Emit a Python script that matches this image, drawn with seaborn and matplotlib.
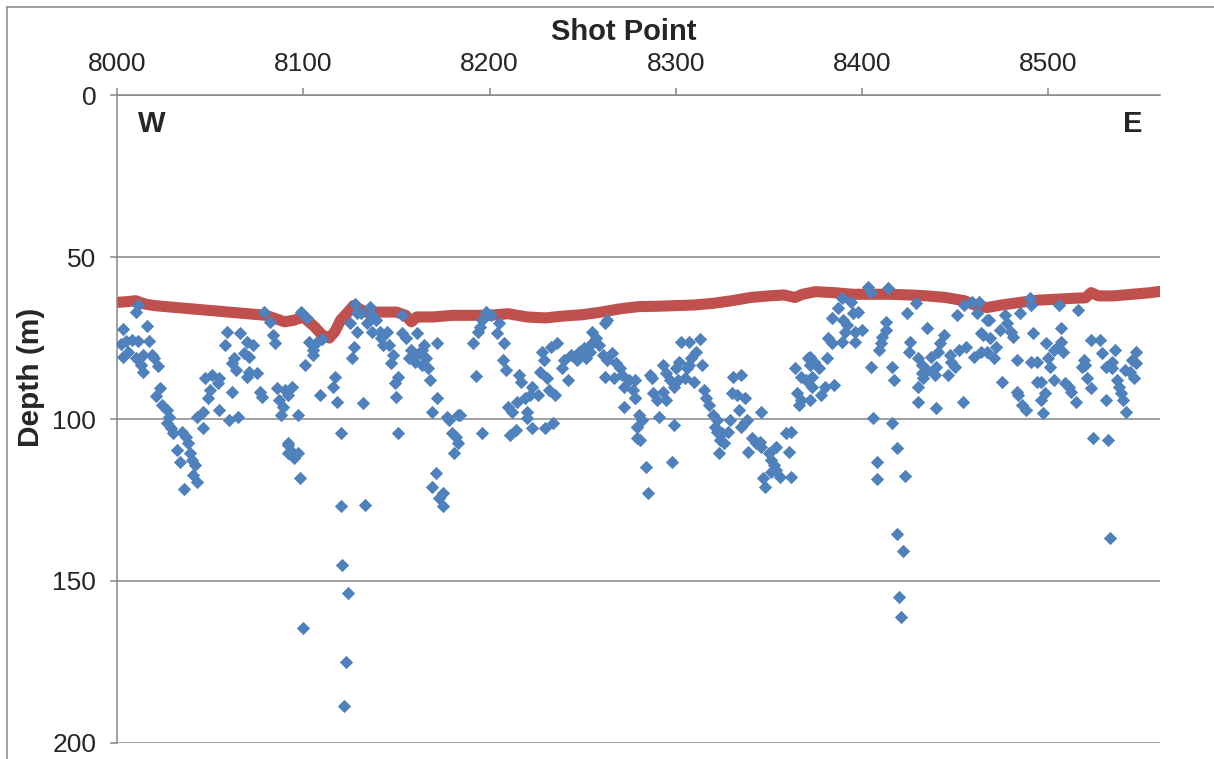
import matplotlib
matplotlib.use("Agg")
import matplotlib.pyplot as plt
from matplotlib.lines import Line2D
import seaborn as sns
import pandas as pd

# seafloor pick (red)
sea_shot = [8000, 8005, 8010, 8015, 8020, 8030, 8040, 8050, 8060, 8070, 8080, 8085,
            8090, 8095, 8100, 8103, 8106, 8110, 8114, 8117, 8120, 8124, 8127, 8130,
            8135, 8140, 8150, 8155, 8158, 8161, 8170, 8180, 8190, 8200, 8210, 8220,
            8230, 8240, 8250, 8260, 8270, 8280, 8290, 8300, 8310, 8320, 8330, 8340,
            8350, 8358, 8364, 8368, 8375, 8385, 8395, 8405, 8415, 8425, 8435, 8445,
            8455, 8460, 8467, 8475, 8485, 8495, 8505, 8515, 8520, 8523, 8527, 8535,
            8545, 8555, 8560]
sea_depth = [64.0, 63.8, 63.5, 64.5, 65.0, 65.5, 66.0, 66.5, 67.0, 67.5, 68.0, 69.0,
             70.0, 69.5, 68.5, 70.0, 71.5, 74.0, 75.0, 73.0, 69.5, 67.0, 65.0, 66.0,
             67.3, 67.0, 67.0, 68.0, 70.0, 68.5, 68.5, 68.0, 68.0, 68.0, 67.5, 68.5,
             68.8, 68.2, 67.8, 67.0, 66.0, 65.3, 65.2, 65.0, 64.8, 64.3, 63.5, 62.5,
             62.0, 61.7, 62.5, 61.5, 60.7, 61.0, 61.5, 61.5, 61.5, 61.7, 62.0, 62.5,
             63.5, 64.7, 65.6, 64.8, 64.0, 63.3, 63.0, 62.7, 62.6, 61.0, 62.0, 62.0,
             61.5, 61.0, 60.6]

# scattered reflector picks (blue)
pick_shot = [
    8011, 8010, 8003, 8016, 8002, 8005, 8008, 8011, 8017, 8003, 8006, 8010, 8014, 8019,
    8020, 8022, 8013, 8014, 8023, 8021, 8024, 8027, 8028, 8027, 8029, 8030, 8035, 8037,
    8038, 8032, 8034, 8039, 8040, 8042, 8041, 8043, 8036,
    8059, 8058, 8066, 8070, 8073, 8068, 8071, 8063, 8062, 8064, 8070, 8075, 8071, 8047,
    8051, 8055, 8054, 8050, 8049, 8062, 8055, 8046, 8043, 8046, 8060, 8065, 8077, 8078,
    8079, 8082, 8084, 8085, 8086, 8090, 8087, 8089, 8088, 8092, 8092,
    8099, 8102, 8103, 8107, 8110, 8105, 8105, 8101, 8094, 8092, 8097, 8092, 8094, 8097,
    8095, 8098, 8117, 8116, 8109, 8118, 8132, 8120, 8127, 8126, 8125, 8128, 8129, 8131,
    8136, 8134, 8129, 8137, 8139, 8137, 8141, 8142, 8145, 8143, 8146, 8148, 8147, 8151,
    8149, 8150, 8151, 8153, 8153, 8155, 8158, 8161, 8157, 8160, 8161, 8164, 8165, 8166,
    8164, 8167, 8168, 8172, 8172, 8169, 8177, 8178, 8183, 8180, 8182, 8183, 8181, 8171,
    8169, 8175, 8173, 8175,
    8198, 8201, 8196, 8195, 8194, 8205, 8204, 8191, 8208, 8207, 8209, 8193, 8184, 8216,
    8217, 8223, 8222, 8226, 8219, 8215, 8210, 8212, 8220, 8220, 8223, 8230, 8234, 8211,
    8214, 8196, 8228, 8229, 8233, 8236, 8227, 8231, 8232, 8235, 8239, 8242, 8240, 8244,
    8247, 8248, 8251, 8254, 8252, 8255, 8257, 8259, 8255, 8263, 8262, 8261, 8263, 8266,
    8268, 8270, 8262, 8267, 8271, 8275, 8272, 8277, 8278, 8272, 8279, 8279,
    8278, 8278, 8280, 8282, 8279, 8281, 8284, 8285, 8286, 8287, 8288, 8290, 8291, 8293,
    8295, 8297, 8293, 8295, 8299, 8301, 8299, 8298, 8300, 8302, 8305, 8306, 8303, 8307,
    8313, 8311, 8308, 8307, 8314, 8310, 8315, 8316, 8318, 8320, 8322, 8321, 8322, 8325,
    8328, 8324, 8326, 8323, 8329, 8330, 8331, 8335, 8333, 8337, 8334, 8337, 8335, 8338,
    8346, 8341, 8343, 8345, 8339, 8346, 8350, 8351, 8354, 8353, 8351, 8354, 8356, 8347,
    8348, 8359, 8362, 8361, 8362, 8364, 8367, 8365, 8367, 8366, 8371, 8372, 8370, 8373,
    8372, 8374, 8377, 8381, 8373, 8372, 8380, 8378, 8385, 8382, 8384, 8389, 8384, 8387,
    8389, 8390, 8392, 8394, 8395, 8398, 8391, 8396, 8396, 8400, 8403, 8405, 8414, 8405,
    8409, 8410, 8411, 8413, 8413, 8416, 8417, 8406, 8416, 8419, 8408, 8408, 8423, 8424,
    8429, 8426, 8425, 8430, 8432, 8432, 8433, 8430, 8435, 8437, 8439, 8440, 8435, 8430,
    8440, 8442, 8444, 8441, 8447, 8448, 8446, 8450, 8452, 8454, 8451, 8455, 8459, 8462,
    8463, 8456, 8460, 8464, 8467, 8464,
    8468, 8465, 8469, 8467, 8472, 8471, 8474, 8477, 8478, 8480, 8481, 8475, 8483, 8483,
    8484, 8486, 8488, 8485, 8490, 8491, 8492, 8491, 8494, 8494, 8496, 8498, 8496, 8497,
    8499, 8500, 8501, 8503, 8505, 8503, 8506, 8507, 8507, 8508, 8509, 8511, 8512, 8515,
    8516, 8519, 8520, 8518, 8521, 8523, 8523, 8528, 8529, 8531, 8531, 8534, 8534, 8536,
    8537, 8538, 8539, 8540, 8542, 8541, 8544, 8546, 8545, 8547, 8547, 8524, 8532,
    8100, 8120, 8121, 8124, 8123, 8122, 8133, 8419, 8422, 8420, 8421, 8533,
]
pick_depth = [
    64.8, 67.0, 72.2, 71.3, 77.0, 76.0, 75.6, 76.0, 76.0, 80.8, 79.3, 81.2, 80.2, 80.2,
    81.2, 83.6, 83.3, 85.5, 90.4, 92.9, 95.7, 97.2, 99.4, 101.2, 102.8, 104.3, 104.0, 105.6,
    107.4, 109.6, 113.3, 110.5, 112.7, 114.2, 117.3, 119.4, 121.6,
    73.1, 77.2, 73.5, 76.1, 77.2, 79.7, 80.8, 81.2, 82.7, 84.9, 87.0, 85.8, 85.5, 87.3,
    86.4, 87.3, 88.9, 91.0, 93.5, 91.6, 97.2, 97.8, 99.4, 102.8, 100.3, 99.4, 91.6, 93.2,
    67.0, 70.0, 74.1, 76.5, 90.4, 91.0, 94.1, 96.3, 98.8, 108.0, 110.5,
    67.0, 68.8, 76.2, 76.5, 75.3, 78.7, 80.2, 83.3, 90.0, 92.6, 98.8, 107.4, 110.2, 110.5,
    112.0, 118.2, 87.0, 90.0, 92.6, 94.8, 95.1, 104.3, 77.8, 81.2, 70.4, 64.5, 67.3, 67.3,
    65.4, 70.4, 73.1, 67.9, 69.4, 73.1, 73.1, 75.0, 73.1, 77.2, 77.2, 80.2, 82.7, 87.0,
    88.9, 93.2, 104.3, 67.9, 73.5, 75.0, 78.7, 73.5, 81.2, 82.4, 80.2, 78.7, 77.2, 81.2,
    83.3, 84.3, 88.0, 76.5, 93.5, 97.8, 99.4, 100.3, 98.8, 104.3, 105.6, 107.4, 110.5, 116.7,
    121.0, 122.8, 124.5, 126.8,
    67.0, 67.9, 69.4, 71.6, 73.1, 70.4, 73.5, 76.5, 76.5, 81.8, 84.9, 86.7, 98.8, 86.4,
    88.6, 90.0, 92.6, 92.6, 93.5, 94.8, 96.3, 97.8, 97.8, 99.7, 102.8, 102.8, 101.2, 104.9,
    103.4, 104.3, 79.3, 81.8, 77.8, 76.5, 85.5, 87.3, 91.0, 92.6, 84.3, 88.0, 81.8, 80.2,
    81.8, 79.3, 78.1, 79.3, 81.2, 76.5, 75.0, 77.2, 73.1, 69.4, 70.4, 80.2, 81.8, 79.7,
    82.7, 84.3, 87.0, 87.3, 86.4, 88.0, 90.0, 91.0, 93.5, 96.3, 102.5, 105.9,
    88.0, 93.5, 98.8, 100.3, 102.5, 106.5, 114.8, 122.8, 86.4, 87.3, 92.0, 94.1, 99.4, 83.3,
    85.8, 88.0, 91.6, 94.1, 90.0, 88.0, 101.9, 113.3, 84.3, 82.4, 87.3, 84.3, 76.2, 76.2,
    75.3, 79.3, 81.2, 83.3, 83.3, 88.6, 91.0, 93.5, 95.7, 98.8, 100.3, 102.5, 104.0, 104.3,
    104.0, 106.5, 107.4, 110.5, 100.3, 92.0, 87.0, 86.4, 92.6, 93.5, 97.2, 100.9, 102.5, 100.3,
    97.8, 105.9, 107.4, 107.1, 110.2, 108.6, 110.5, 112.7, 108.6, 114.2, 116.4, 115.7, 117.9, 118.2,
    121.0, 104.3, 104.0, 110.2, 117.9, 84.3, 87.0, 92.0, 94.1, 95.7, 81.2, 83.3, 88.0, 90.0,
    80.8, 82.4, 84.3, 81.2, 87.0, 94.1, 90.0, 92.6, 89.5, 75.0, 76.5, 76.2, 68.8, 65.7,
    62.7, 69.4, 71.0, 63.9, 67.3, 67.0, 73.1, 73.1, 76.2, 72.5, 59.3, 60.8, 59.6, 83.9,
    78.7, 76.5, 74.7, 72.5, 70.0, 83.9, 88.0, 99.7, 101.2, 109.0, 113.3, 118.5, 117.6, 67.3,
    64.2, 76.2, 79.3, 81.2, 83.3, 85.8, 87.3, 90.0, 84.9, 80.8, 86.4, 83.9, 71.9, 94.8,
    96.6, 76.5, 74.1, 79.3, 80.2, 82.4, 86.4, 83.9, 78.7, 94.8, 67.9, 64.8, 63.9, 67.3,
    63.9, 77.8, 80.8, 73.5, 69.4, 79.3,
    69.4, 74.1, 75.0, 79.3, 77.8, 81.2, 72.5, 67.9, 70.4, 73.1, 74.7, 88.6, 81.8, 91.6,
    92.6, 95.7, 97.2, 67.3, 62.7, 64.8, 73.5, 82.4, 82.4, 88.6, 88.6, 92.0, 94.1, 98.1,
    76.5, 81.2, 83.9, 78.7, 77.8, 88.0, 64.8, 71.9, 76.2, 79.3, 88.9, 90.0, 91.6, 94.8,
    66.4, 81.8, 83.3, 83.9, 87.3, 90.4, 75.6, 75.6, 79.7, 83.9, 94.1, 82.4, 84.3, 78.7,
    88.0, 90.0, 92.0, 94.1, 97.8, 84.9, 85.5, 87.3, 81.8, 79.3, 82.7, 105.9, 106.5,
    164.5, 126.9, 145.0, 153.7, 175.0, 188.6, 126.5, 135.5, 140.7, 155.0, 161.1, 136.7,
]

x_ticks = [8000, 8100, 8200, 8300, 8400, 8500]
y_ticks = [0, 50, 100, 150, 200]

sea = pd.DataFrame({"shot": sea_shot, "depth": sea_depth})
picks = pd.DataFrame({"shot": pick_shot, "depth": pick_depth})

sns.set_theme(style="white")
plt.rcParams['font.family'] = ['Liberation Sans', 'DejaVu Sans']
grey = "#868686"

fig = plt.figure(figsize=(12.14, 7.59), dpi=100)
ax = fig.add_axes([0.0964, 0.0211, 0.8591, 0.8537])

sns.lineplot(data=sea, x="shot", y="depth", ax=ax, color="#C0504D", linewidth=8,
             solid_capstyle="round", solid_joinstyle="round", zorder=2)
sns.scatterplot(data=picks, x="shot", y="depth", ax=ax, color="#4F81BD", marker="D",
                s=46, linewidth=0, zorder=3)

ax.set_xlim(8000, 8560)
ax.set_ylim(200, 0)
ax.set_xticks(x_ticks)
ax.set_yticks(y_ticks)
ax.xaxis.tick_top()
ax.xaxis.set_label_position("top")
ax.tick_params(axis="x", direction="out", length=5, width=1.1, color=grey,
               labelsize=19, pad=9, top=True, bottom=False)
ax.tick_params(axis="y", direction="out", length=5, width=1.1, color=grey,
               labelsize=19, pad=10, left=True)
ax.set_xlabel("Shot Point", fontsize=21, fontweight="bold")
ax.set_ylabel("Depth (m)", fontsize=21.5, fontweight="bold")
ax.xaxis.set_label_coords(0.486, 1.085)
ax.yaxis.set_label_coords(-0.069, 0.565)

ax.yaxis.grid(True, color=grey, linewidth=1.1)
ax.xaxis.grid(False)
for side in ["right", "bottom"]:
    ax.spines[side].set_visible(False)
for side in ["top", "left"]:
    ax.spines[side].set_color(grey)
    ax.spines[side].set_linewidth(1.1)

ax.text(0.020, 0.955, "W", transform=ax.transAxes, fontsize=21, fontweight="bold",
        ha="left", va="center")
ax.text(0.983, 0.955, "E", transform=ax.transAxes, fontsize=21, fontweight="bold",
        ha="right", va="center")

# outer chart frame, only top and left are in the crop
fx, fy = 7 / 1214, 1 - 7 / 759
fig.add_artist(Line2D([fx, fx], [0, fy], color=grey, linewidth=1.1))
fig.add_artist(Line2D([fx, 1], [fy, fy], color=grey, linewidth=1.1))

fig.savefig("out.png", dpi=100)
